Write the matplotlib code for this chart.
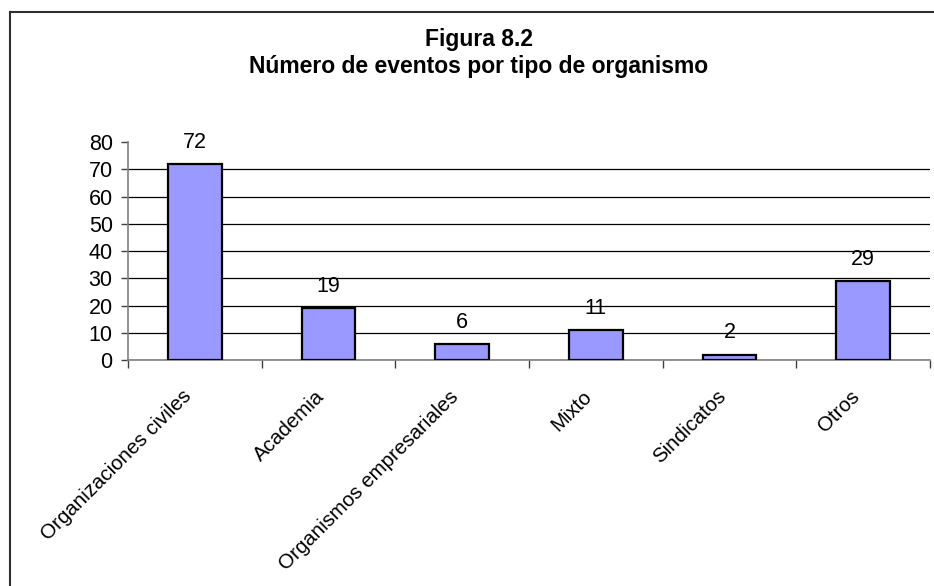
import numpy as np
import matplotlib.pyplot as plt
from matplotlib.lines import Line2D

plt.rcParams['font.family'] = ['Liberation Sans', 'DejaVu Sans']

# data
categorias = ["Organizaciones civiles", "Academia", "Organismos empresariales",
              "Mixto", "Sindicatos", "Otros"]
eventos = [72, 19, 6, 11, 2, 29]
y_ticks = [0, 10, 20, 30, 40, 50, 60, 70, 80]

fig = plt.figure(figsize=(9.34, 5.86), dpi=100)
ax = fig.add_axes([128 / 934, 1 - 360 / 586, 802 / 934, 218 / 586])

x = np.arange(len(categorias))
bars = ax.bar(x, eventos, width=0.4, color='#9999FF', edgecolor='black',
              linewidth=1.6, zorder=3)

# value labels above the bars
for b, v in zip(bars, eventos):
    ax.annotate(str(v), (b.get_x() + b.get_width() / 2, v), xytext=(0, 8),
                textcoords='offset points', ha='center', va='bottom', fontsize=15.5)

ax.set_xlim(-0.5, len(categorias) - 0.5)
ax.set_ylim(0, 80)
ax.set_yticks(y_ticks)
ax.set_yticklabels([str(t) for t in y_ticks], fontsize=15.5)
ax.tick_params(axis='y', direction='out', length=5, width=1, color='#404040', pad=6)

# category labels at centres, ticks at boundaries
ax.set_xticks(x)
ax.set_xticklabels(categorias, rotation=45, ha='right', va='bottom',
                   rotation_mode='anchor', fontsize=14.8)
ax.tick_params(axis='x', which='major', length=0, pad=29)
ax.set_xticks(np.arange(len(categorias) + 1) - 0.5, minor=True)
ax.tick_params(axis='x', which='minor', direction='out', length=6, width=1,
               color='#404040')

ax.yaxis.grid(True, color='black', linewidth=0.9, zorder=0)
ax.get_ygridlines()[-1].set_visible(False)
ax.set_axisbelow(True)

for s in ['top', 'right']:
    ax.spines[s].set_visible(False)
for s in ['left', 'bottom']:
    ax.spines[s].set_color('#808080')
    ax.spines[s].set_linewidth(1.2)

fig.text(479 / 934, 1 - 39.5 / 586, "Figura 8.2", ha='center', va='center',
         fontsize=16.5, fontweight='bold')
fig.text(479 / 934, 1 - 67 / 586, "Número de eventos por tipo de organismo",
         ha='center', va='center', fontsize=16.5, fontweight='bold')

# outer chart border (left and top edges visible)
fig.add_artist(Line2D([9.5 / 934, 9.5 / 934], [-0.05, 1 - 11.5 / 586],
                      transform=fig.transFigure, color='#303030', linewidth=1.5))
fig.add_artist(Line2D([9.5 / 934, 1.05], [1 - 11.5 / 586, 1 - 11.5 / 586],
                      transform=fig.transFigure, color='#303030', linewidth=1.5))

fig.savefig('out.png', dpi=100)
